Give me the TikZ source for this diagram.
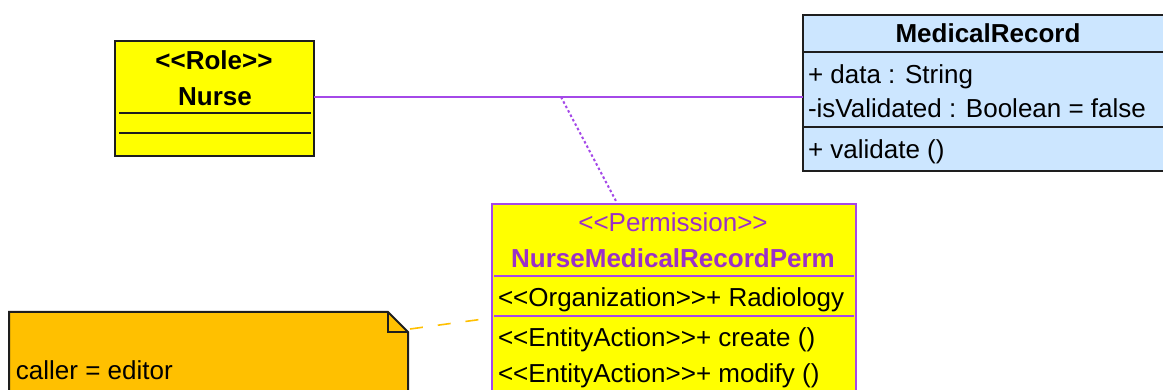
\documentclass[tikz,border=0pt]{standalone}
\usepackage{fontspec}
\setmainfont{Liberation Sans}
\definecolor{roleyellow}{HTML}{FFFF00}
\definecolor{recblue}{HTML}{CCE6FF}
\definecolor{permline}{HTML}{A448E8}
\definecolor{permtext}{HTML}{9A30C8}
\definecolor{noteorange}{HTML}{FFC000}
\definecolor{boxedge}{HTML}{1E1E1E}
% stereotype brackets typed as two separate angle signs
\newcommand{\stlo}{<{}<}
\newcommand{\sthi}{>{}>}
\begin{document}
\begin{tikzpicture}[x=1pt,y=-1pt,
  every node/.style={inner sep=0pt, outer sep=0pt},
  txt/.style={font=\fontsize{26}{30}\selectfont},
  boldtxt/.style={font=\fontsize{26}{30}\selectfont\bfseries},
  rolebox/.style={draw=boxedge, fill=roleyellow, line width=2pt},
  recbox/.style={draw=boxedge, fill=recblue, line width=2pt},
  permbox/.style={draw=permline, fill=roleyellow, line width=2pt},
  sepline/.style={draw=boxedge, line width=2pt},
  permsep/.style={draw=permline, line width=2pt},
  assoc/.style={draw=permline, line width=2pt},
  classlink/.style={draw=permline, line width=2pt, dash pattern=on 2.5pt off 2.5pt},
  notelink/.style={draw=noteorange, line width=1.6pt, dash pattern=on 13pt off 15pt},
  notebody/.style={fill=noteorange, draw=boxedge, line width=2pt, line join=miter}]

\useasboundingbox (0,0) rectangle (1163,390);
\fill[white] (0,0) rectangle (1163,390);
\clip (0,0) rectangle (1163,390);

% role class: Nurse
\node[rolebox, minimum width=199pt, minimum height=115pt, anchor=north west] (nurse) at (115,41) {};
\draw[sepline] (119,113) -- (311,113);
\draw[sepline] (119,133) -- (311,133);
\node[boldtxt, anchor=base] (nursestereo) at (214,70) {\stlo Role\sthi};
\node[boldtxt, anchor=base] (nursename) at (215,106) {Nurse};

% entity class: MedicalRecord
\node[recbox, minimum width=380pt, minimum height=156pt, anchor=north west] (medrec) at (803,15) {};
\draw[sepline] (803,52) -- (1180,52);
\draw[sepline] (803,127) -- (1180,127);
\node[boldtxt, anchor=base] (medrecname) at (988,43) {MedicalRecord};
\node[txt, anchor=base west] (attrdata) at (808,84) {+ data : String};
\node[txt, anchor=base west] (attrvalid) at (808,118) {-isValidated : Boolean = false};
\node[txt, anchor=base west] (opvalidate) at (808,159) {+ validate ()};

% permission class
\node[permbox, minimum width=364pt, minimum height=200pt, anchor=north west] (perm) at (492,204) {};
\draw[permsep] (494,276) -- (854,276);
\draw[permsep] (494,316) -- (854,316);
\node[txt, text=permtext, anchor=base] (permstereo) at (673,232) {\stlo Permission\sthi};
\node[boldtxt, text=permtext, anchor=base] (permname) at (673,268) {NurseMedicalRecordPerm};
\node[txt, anchor=base west] (permorg) at (498,307) {\stlo Organization\sthi+ Radiology};
\node[txt, anchor=base west] (permcreate) at (498,347) {\stlo EntityAction\sthi+ create ()};
\node[txt, anchor=base west] (permmodify) at (498,382) {\stlo EntityAction\sthi+ modify ()};

% constraint note
\path[notebody] (9,312) -- (388,312) -- (408,332) -- (408,410) -- (9,410) -- cycle;
\draw[sepline, line join=miter] (388,312) -- (388,332) -- (408,332);
\node[txt, anchor=base west] (notetext) at (16,379) {caller = editor};
\coordinate (notecorner) at (410,329);

% association and its links
\coordinate (linkmid) at (561,97);
\coordinate (permtop) at (617,203);
\coordinate (permleft) at (491,318);
\draw[assoc] (nurse.east |- linkmid) -- (medrec.west |- linkmid);
\draw[classlink] (linkmid) -- (permtop);
\draw[notelink] (notecorner) -- (permleft);
\end{tikzpicture}
\end{document}
